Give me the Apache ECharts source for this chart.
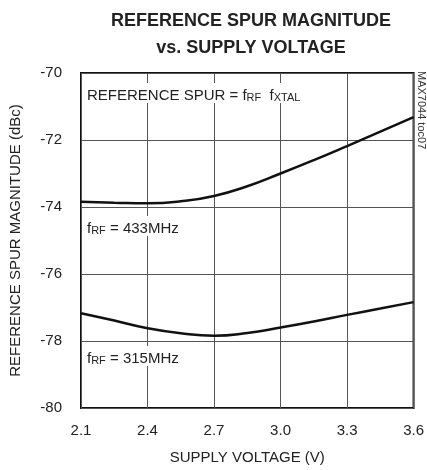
<!DOCTYPE html>
<html>
<head>
<meta charset="utf-8">
<script src="https://cdn.jsdelivr.net/npm/echarts@6/dist/echarts.min.js"></script>
<style>html,body{margin:0;padding:0;background:#fff}#c{width:427px;height:470px}</style>
</head>
<body>
<div id="c"></div>
<script>
var voltage = [2.1, 2.25, 2.4, 2.55, 2.7, 2.85, 3.0, 3.15, 3.3, 3.45, 3.6];
var spur433 = [-73.84, -73.87, -73.89, -73.83, -73.67, -73.38, -73.0, -72.6, -72.18, -71.75, -71.32];
var spur315 = [-77.17, -77.39, -77.62, -77.77, -77.84, -77.76, -77.6, -77.42, -77.22, -77.03, -76.84];
var xTicks = ['2.1', '2.4', '2.7', '3.0', '3.3', '3.6'];
var yTicks = ['-70', '-72', '-74', '-76', '-78', '-80'];

var FONT = '"Liberation Sans Narrow", "Arial Narrow", "Liberation Sans", Arial, sans-serif';
function pairs(xs, ys) { return xs.map(function (x, i) { return [x, ys[i]]; }); }

var mainRich = {
  m: { fontFamily: FONT, fontSize: 15, fill: '#222', lineHeight: 20, verticalAlign: 'bottom' },
  s: { fontFamily: FONT, fontSize: 11, fill: '#222', lineHeight: 14, padding: [7, 0, 0, 0], verticalAlign: 'bottom' }
};

var chart = echarts.init(document.getElementById('c'));
chart.setOption({
  animation: false,
  title: {
    text: 'REFERENCE SPUR MAGNITUDE\nvs. SUPPLY VOLTAGE',
    left: 246, top: 3, textAlign: 'center',
    textStyle: { fontFamily: FONT, fontWeight: 'bold', fontSize: 18, lineHeight: 27, color: '#222' }
  },
  grid: { left: 77.5, right: 13, top: 73, bottom: 62, show: true, borderColor: '#111', borderWidth: 2, backgroundColor: 'transparent' },
  xAxis: {
    type: 'value', min: 2.1, max: 3.6, interval: 0.3,
    axisLine: { show: false }, axisTick: { show: false },
    splitLine: { show: true, lineStyle: { color: '#555', width: 1 } },
    axisLabel: { fontFamily: FONT, fontSize: 15, color: '#222', margin: 15,
      formatter: function (v) { var s = v.toFixed(1); return xTicks.indexOf(s) >= 0 ? s : ''; } },
    name: 'SUPPLY VOLTAGE (V)', nameLocation: 'middle', nameGap: 42,
    nameTextStyle: { fontFamily: FONT, fontSize: 15, color: '#222' }
  },
  yAxis: {
    type: 'value', min: -80, max: -70, interval: 2,
    axisLine: { show: false }, axisTick: { show: false },
    splitLine: { show: true, lineStyle: { color: '#555', width: 1 } },
    axisLabel: { fontFamily: FONT, fontSize: 15, color: '#222', margin: 19,
      formatter: function (v) { var s = String(v); return yTicks.indexOf(s) >= 0 ? s : ''; } },
    name: 'REFERENCE SPUR MAGNITUDE (dBc)', nameLocation: 'middle', nameGap: 58,
    nameTextStyle: { fontFamily: FONT, fontSize: 15, color: '#222' }
  },
  series: [
    { type: 'line', data: pairs(voltage, spur433), smooth: 0.5, showSymbol: false, lineStyle: { color: '#111', width: 2.5 }, z: 5 },
    { type: 'line', data: pairs(voltage, spur315), smooth: 0.5, showSymbol: false, lineStyle: { color: '#111', width: 2.5 }, z: 5 }
  ],
  graphic: [
    { type: 'text', left: 84, top: 83, z: 10,
      style: { text: '{m|REFERENCE SPUR = f}{s|RF}{m|  f}{s|XTAL}', backgroundColor: '#fff', padding: [0, 3, 0, 3], rich: mainRich } },
    { type: 'text', left: 84, top: 216, z: 10,
      style: { text: '{m|f}{s|RF}{m| = 433MHz}', backgroundColor: '#fff', padding: [0, 3, 0, 3], rich: mainRich } },
    { type: 'text', left: 84, top: 346, z: 10,
      style: { text: '{m|f}{s|RF}{m| = 315MHz}', backgroundColor: '#fff', padding: [0, 3, 0, 3], rich: mainRich } },
    { type: 'text', x: 421, y: 71, rotation: -Math.PI / 2, z: 10,
      style: { text: 'MAX7044 toc07', fontFamily: FONT, fontSize: 11, fill: '#333', textAlign: 'left', textVerticalAlign: 'middle' } }
  ]
});
</script>
</body>
</html>
